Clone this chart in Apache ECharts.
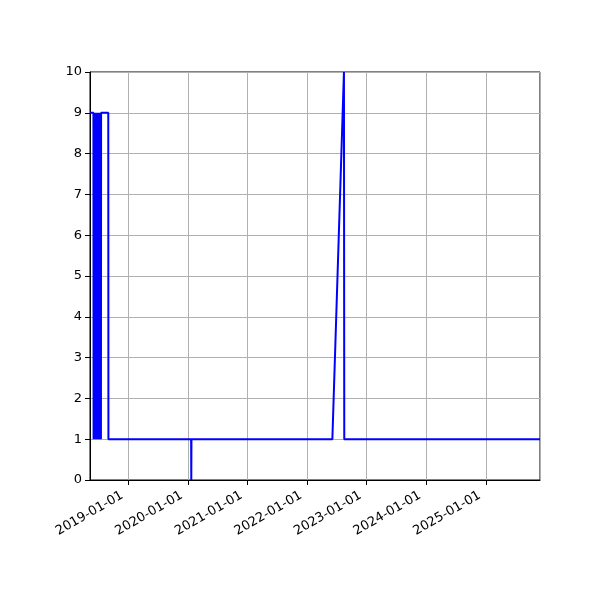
<!DOCTYPE html>
<html>
<head>
<meta charset="utf-8">
<script src="https://cdn.jsdelivr.net/npm/echarts@6/dist/echarts.min.js"></script>
<style>html,body{margin:0;padding:0;background:#fff}#c{width:600px;height:600px}</style>
</head>
<body>
<div id="c"></div>
<script>
var dates = [
  '2018-05-11','2018-06-01','2018-06-02','2018-06-08','2018-06-09','2018-06-11',
  '2018-06-13','2018-06-15','2018-06-17','2018-06-19','2018-06-21','2018-06-23',
  '2018-06-25','2018-06-27','2018-06-29','2018-07-01','2018-07-03','2018-07-05',
  '2018-07-07','2018-07-09','2018-07-11','2018-07-13','2018-07-15','2018-07-17',
  '2018-07-18','2018-08-31','2018-09-01','2020-01-21','2020-01-22','2020-01-23',
  '2022-06-05','2022-08-15','2022-08-17','2025-11-29'
];
var values = [
  9, 9, 1, 1, 9, 1,
  9, 1, 9, 1, 9, 1,
  9, 1, 9, 1, 9, 1,
  9, 1, 9, 1, 9, 1,
  9, 9, 1, 1, 0, 1,
  1, 10, 1, 1
];
var xMin = '2018-05-11';
var xMax = '2025-11-29';
var yTicks = [0, 1, 2, 3, 4, 5, 6, 7, 8, 9, 10];

var seriesData = dates.map(function (d, i) { return [d, values[i]]; });

var chart = echarts.init(document.getElementById('c'), null, {renderer: 'canvas'});
chart.setOption({
  animation: false,
  backgroundColor: '#fff',
  grid: {left: 90, right: 60, top: 72, bottom: 120, show: true, borderColor: '#000', borderWidth: 1, backgroundColor: 'transparent'},
  xAxis: {
    type: 'time',
    min: xMin,
    max: xMax,
    splitNumber: 7,
    minInterval: 365 * 86400000,
    maxInterval: 366 * 86400000,
    axisLine: {show: true, lineStyle: {color: '#000', width: 1}},
    axisTick: {show: true, length: 5, lineStyle: {color: '#000', width: 1}},
    splitLine: {show: true, lineStyle: {color: '#b0b0b0', width: 1}},
    axisLabel: {
      rotate: 30,
      margin: 11,
      padding: [0, 7, 0, 0],
      color: '#000',
      fontFamily: 'DejaVu Sans',
      fontSize: 13,
      showMinLabel: false,
      showMaxLabel: false,
      formatter: '{yyyy}-{MM}-{dd}'
    }
  },
  yAxis: {
    type: 'value',
    min: yTicks[0],
    max: yTicks[yTicks.length - 1],
    interval: 1,
    axisLine: {show: true, lineStyle: {color: '#000', width: 1}},
    axisTick: {show: true, length: 5, lineStyle: {color: '#000', width: 1}},
    splitLine: {show: true, lineStyle: {color: '#b0b0b0', width: 1}},
    axisLabel: {margin: 8, color: '#000', fontFamily: 'DejaVu Sans', fontSize: 13}
  },
  series: [{
    type: 'line',
    data: seriesData,
    showSymbol: false,
    symbol: 'none',
    lineStyle: {color: '#0000ff', width: 2},
    itemStyle: {color: '#0000ff'}
  }]
});
</script>
</body>
</html>
